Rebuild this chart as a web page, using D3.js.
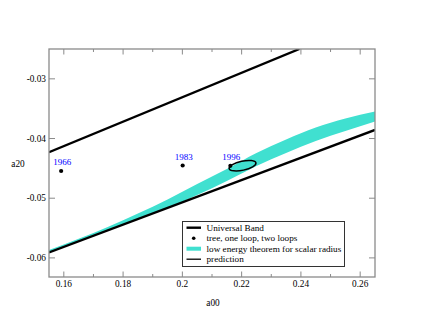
<!DOCTYPE html>
<html>
<head>
<meta charset="utf-8">
<script src="https://cdn.jsdelivr.net/npm/d3@7"></script>
<style>
  body { margin: 0; background: #fff; }
  svg text { font-family: "Liberation Serif", "Times New Roman", Times, serif; }
</style>
</head>
<body>
<div id="chart"></div>
<script>
// data
const bandA00 = [0.155, 0.165, 0.175, 0.185, 0.195, 0.205, 0.215, 0.225, 0.235, 0.245, 0.255, 0.265];
const bandUpper = [-0.05867, -0.0568, -0.05477, -0.05258, -0.05021, -0.04762, -0.0451, -0.04242, -0.04016, -0.03815, -0.03664, -0.03547];
const bandLower = [-0.05901, -0.05717, -0.05529, -0.05353, -0.05164, -0.04946, -0.04711, -0.0446, -0.04242, -0.04041, -0.03874, -0.03715];

const ubUpperA00 = [0.155, 0.2395];
const ubUpperA20 = [-0.0423, -0.025];
const ubLowerA00 = [0.155, 0.265];
const ubLowerA20 = [-0.05909, -0.03857];

const years = ['1966', '1983', '1996'];
const yearA00 = [0.1591, 0.2001, 0.2162];
const yearA20 = [-0.04544, -0.04452, -0.04458];

// prediction ellipse: centre, semi axes (data units), tilt (deg)
const ellipseCentre = [0.2203, -0.04455];
const ellipseSemi = [0.00462, 0.00076];
const ellipseTilt = -12;

const xTicks = [0.16, 0.18, 0.2, 0.22, 0.24, 0.26];
const xMinor = [0.17, 0.19, 0.21, 0.23, 0.25];
const yTicks = [-0.03, -0.04, -0.05, -0.06];

const legendLabels = ['Universal Band', 'tree, one loop, two loops', 'low energy theorem for scalar radius', 'prediction'];

// set the dimensions and margins of the graph
const margin = { top: 49, right: 48, bottom: 50, left: 49 };
const width = 423 - margin.left - margin.right;
const height = 327 - margin.top - margin.bottom;
const frameColor = '#8a8a8a';
const cyan = '#40e0d0';
const serif = '"Liberation Serif", "Times New Roman", Times, serif';

const svg = d3
  .select('#chart')
  .append('svg')
  .attr('width', 423)
  .attr('height', 327)
  .attr('font-family', serif)
  .append('g')
  .attr('transform', `translate(${margin.left},${margin.top})`);

const x = d3.scaleLinear().domain([0.155, 0.265]).range([0, width]);
const y = d3.scaleLinear().domain([-0.0632, -0.025]).range([height, 0]);

svg
  .append('clipPath')
  .attr('id', 'clip')
  .append('rect')
  .attr('width', width)
  .attr('height', height);

const plot = svg.append('g').attr('clip-path', 'url(#clip)');

// low energy theorem band
const band = d3
  .area()
  .x((d, i) => x(bandA00[i]))
  .y0((d, i) => y(bandLower[i]))
  .y1((d) => y(d))
  .curve(d3.curveMonotoneX);
plot.append('path').datum(bandUpper).attr('d', band).attr('fill', cyan);

// universal band
const line = d3
  .line()
  .x((d) => x(d[0]))
  .y((d) => y(d[1]));
[
  [ubUpperA00, ubUpperA20],
  [ubLowerA00, ubLowerA20],
].forEach(([xs, ys]) => {
  plot
    .append('path')
    .datum(d3.zip(xs, ys))
    .attr('d', line)
    .attr('fill', 'none')
    .attr('stroke', '#000')
    .attr('stroke-width', 2.4);
});

// prediction ellipse
const ex = x(ellipseCentre[0]);
const ey = y(ellipseCentre[1]);
plot
  .append('ellipse')
  .attr('cx', ex)
  .attr('cy', ey)
  .attr('rx', x(ellipseCentre[0] + ellipseSemi[0]) - ex)
  .attr('ry', ey - y(ellipseCentre[1] + ellipseSemi[1]))
  .attr('transform', `rotate(${ellipseTilt},${ex},${ey})`)
  .attr('fill', 'none')
  .attr('stroke', '#000')
  .attr('stroke-width', 1.5);

// points with year labels
years.forEach((yr, i) => {
  plot
    .append('circle')
    .attr('cx', x(yearA00[i]))
    .attr('cy', y(yearA20[i]))
    .attr('r', 2.1)
    .attr('fill', '#000');
  plot
    .append('text')
    .attr('x', x(yearA00[i]) + 1)
    .attr('y', y(yearA20[i]) - 6)
    .attr('text-anchor', 'middle')
    .style('font-size', '9px')
    .attr('fill', '#0000ff')
    .text(yr);
});

// frame and inward ticks
svg
  .append('rect')
  .attr('width', width)
  .attr('height', height)
  .attr('fill', 'none')
  .attr('stroke', frameColor)
  .attr('stroke-width', 1.3);

const ticks = svg.append('g').attr('stroke', frameColor).attr('stroke-width', 1);
xTicks.concat(xMinor).forEach((t) => {
  const len = xTicks.includes(t) ? 5.5 : 3;
  ticks.append('line').attr('x1', x(t)).attr('x2', x(t)).attr('y1', height).attr('y2', height - len);
  ticks.append('line').attr('x1', x(t)).attr('x2', x(t)).attr('y1', 0).attr('y2', len);
});
yTicks.forEach((t) => {
  ticks.append('line').attr('x1', 0).attr('x2', 6).attr('y1', y(t)).attr('y2', y(t));
  ticks.append('line').attr('x1', width).attr('x2', width - 6).attr('y1', y(t)).attr('y2', y(t));
});

// tick labels (plain hyphen minus, like the original)
const fmt = (d) => String(d);

svg
  .selectAll('.xlab')
  .data(xTicks)
  .enter()
  .append('text')
  .attr('x', (d) => x(d))
  .attr('y', height + 9.5)
  .attr('text-anchor', 'middle')
  .style('font-size', '9.3px')
  .text(fmt);

svg
  .selectAll('.ylab')
  .data(yTicks)
  .enter()
  .append('text')
  .attr('x', -3)
  .attr('y', (d) => y(d))
  .attr('dy', '0.33em')
  .attr('text-anchor', 'end')
  .style('font-size', '9.3px')
  .text(fmt);

// axis labels
svg
  .append('text')
  .attr('x', width / 2 + 1)
  .attr('y', height + 28.5)
  .attr('text-anchor', 'middle')
  .style('font-size', '9.3px')
  .text('a00');

svg
  .append('text')
  .attr('x', -31)
  .attr('y', height / 2 + 3.5)
  .attr('text-anchor', 'middle')
  .style('font-size', '9.3px')
  .text('a20');

// legend
const legend = svg.append('g').attr('transform', 'translate(133.5,172.5)');
legend
  .append('rect')
  .attr('width', 162)
  .attr('height', 45)
  .attr('fill', '#fff')
  .attr('stroke', '#333')
  .attr('stroke-width', 1);

const rowY = (i) => 6.2 + i * 10.5;
legend
  .append('line')
  .attr('x1', 4).attr('x2', 18.5)
  .attr('y1', rowY(0)).attr('y2', rowY(0))
  .attr('stroke', '#000').attr('stroke-width', 2.4);
legend
  .append('circle')
  .attr('cx', 11.2).attr('cy', rowY(1))
  .attr('r', 1.8).attr('fill', '#000');
legend
  .append('line')
  .attr('x1', 4).attr('x2', 18.5)
  .attr('y1', rowY(2)).attr('y2', rowY(2))
  .attr('stroke', cyan).attr('stroke-width', 4);
legend
  .append('line')
  .attr('x1', 4).attr('x2', 18.5)
  .attr('y1', rowY(3)).attr('y2', rowY(3))
  .attr('stroke', '#000').attr('stroke-width', 1.3);

legend
  .selectAll('.ltxt')
  .data(legendLabels)
  .enter()
  .append('text')
  .attr('x', 24)
  .attr('y', (d, i) => rowY(i))
  .attr('dy', '0.32em')
  .style('font-size', '9.2px')
  .text((d) => d);
</script>
</body>
</html>
